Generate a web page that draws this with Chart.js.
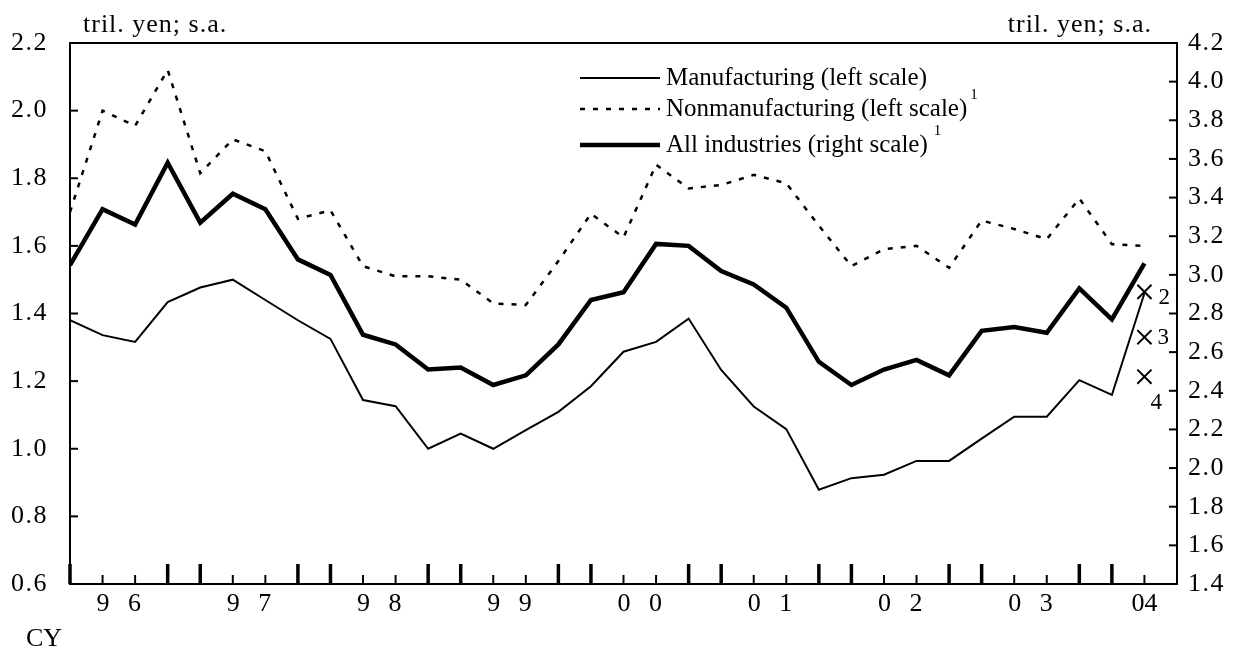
<!DOCTYPE html>
<html>
<head>
<meta charset="utf-8">
<script src="https://cdn.jsdelivr.net/npm/chart.js@4"></script>
<style>
    html, body { margin: 0; padding: 0; background: #fff; }
</style>
</head>
<body>
<canvas id="myChart" width="1240" height="650"></canvas>
<script>
// Quarterly data, 1996 Q1 .. 2004 Q2 (index 0 .. 33)
const manufacturing = [1.38, 1.336, 1.316, 1.434, 1.477, 1.50, 1.44, 1.38, 1.325, 1.144, 1.126, 1.0,
    1.045, 1.0, 1.055, 1.109, 1.185, 1.287, 1.316, 1.385, 1.233, 1.125, 1.058, 0.879,
    0.913, 0.923, 0.964, 0.964, 1.03, 1.095, 1.095, 1.203, 1.159, 1.46];
const nonmanufacturing = [1.70, 2.00, 1.955, 2.12, 1.815, 1.915, 1.88, 1.68, 1.705, 1.54, 1.51, 1.51,
    1.50, 1.43, 1.425, 1.555, 1.695, 1.625, 1.84, 1.77, 1.78, 1.81, 1.785, 1.66,
    1.54, 1.59, 1.60, 1.535, 1.675, 1.65, 1.62, 1.74, 1.605, 1.60];
const allIndustries = [3.05, 3.34, 3.26, 3.58, 3.27, 3.42, 3.34, 3.08, 3.00, 2.69, 2.64, 2.51,
    2.52, 2.43, 2.48, 2.64, 2.87, 2.91, 3.16, 3.15, 3.02, 2.95, 2.83, 2.55,
    2.43, 2.51, 2.56, 2.48, 2.71, 2.73, 2.70, 2.93, 2.77, 3.06];

// Forecast marks (left scale) at the last quarter
const forecastIndex = 33;
const forecastValues = [1.464, 1.33, 1.213];
const forecastLabels = ["2", "3", "4"];

// Axis labels
const yearLabels = ["9 6", "9 7", "9 8", "9 9", "0 0", "0 1", "0 2", "0 3", "04"];
const yearPos = [1.5, 5.5, 9.5, 13.5, 17.5, 21.5, 25.5, 29.5, 33];
const leftTicks = [0.6, 0.8, 1.0, 1.2, 1.4, 1.6, 1.8, 2.0, 2.2];
const rightTicks = [1.4, 1.6, 1.8, 2.0, 2.2, 2.4, 2.6, 2.8, 3.0, 3.2, 3.4, 3.6, 3.8, 4.0, 4.2];

const serif = "'Liberation Serif', 'Times New Roman', serif";

function toPoints(values) {
    return values.map((v, i) => ({ x: i, y: v }));
}

function line(ctx, x1, y1, x2, y2) {
    ctx.beginPath();
    ctx.moveTo(x1, y1);
    ctx.lineTo(x2, y2);
    ctx.stroke();
}

// Wrap a scale's label drawing to widen letters / spaces a little
function spaceLabels(letter, word) {
    return scale => {
        if (scale.spaced) return;
        const draw = scale.drawLabels;
        scale.drawLabels = function (area) {
            this.ctx.save();
            this.ctx.letterSpacing = letter + "px";
            this.ctx.wordSpacing = word + "px";
            draw.call(this, area);
            this.ctx.restore();
        };
        scale.spaced = true;
    };
}

// Frame, inward tick marks, legend and the loose texts
const decor = {
    id: "decor",
    afterDraw(chart) {
        const ctx = chart.ctx;
        const { left, right, top, bottom } = chart.chartArea;
        const xs = chart.scales.x, yL = chart.scales.yL, yR = chart.scales.yR;

        ctx.save();
        ctx.strokeStyle = "#000";
        ctx.lineWidth = 2;
        ctx.strokeRect(left, top, right - left, bottom - top);

        leftTicks.forEach(v => {
            const y = yL.getPixelForValue(v);
            line(ctx, left, y, left + 8, y);
        });
        rightTicks.forEach(v => {
            const y = yR.getPixelForValue(v);
            line(ctx, right - 8, y, right, y);
        });

        // Quarter ticks: long ones on Q4 and Q1
        for (let i = 0; i < manufacturing.length; i++) {
            const px = xs.getPixelForValue(i);
            const tall = i % 4 === 0 || i % 4 === 3;
            ctx.lineWidth = tall ? 3.5 : 2;
            line(ctx, px, bottom, px, bottom - (tall ? 20 : 9));
        }

        // Legend
        const ds = chart.data.datasets;
        const rows = [78, 109, 145];
        ctx.fillStyle = "#000";
        ctx.textBaseline = "middle";
        ctx.textAlign = "left";
        for (let k = 0; k < 3; k++) {
            const d = ds[k];
            ctx.lineWidth = d.borderWidth;
            ctx.setLineDash(d.borderDash || []);
            line(ctx, 580, rows[k], 660, rows[k]);
            ctx.setLineDash([]);
            ctx.font = "25px " + serif;
            ctx.fillText(d.label, 666, rows[k]);
            if (k > 0) {
                const w = ctx.measureText(d.label).width;
                ctx.font = "15px " + serif;
                ctx.fillText("1", 666 + w + (k === 2 ? 6 : 3), rows[k] - 14);
            }
        }

        // Forecast mark numbers
        ctx.font = "23px " + serif;
        const fx = xs.getPixelForValue(forecastIndex);
        const offs = [[14, 6], [13, 1], [6, 26]];
        forecastValues.forEach((v, k) => {
            const fy = yL.getPixelForValue(v);
            ctx.fillText(forecastLabels[k], fx + offs[k][0], fy + offs[k][1]);
        });

        // Units and CY
        ctx.font = "26px " + serif;
        ctx.letterSpacing = "1px";
        ctx.textBaseline = "alphabetic";
        ctx.fillText("tril. yen; s.a.", 83, 32);
        ctx.textAlign = "right";
        ctx.fillText("tril. yen; s.a.", 1152, 32);
        ctx.textAlign = "left";
        ctx.letterSpacing = "0px";
        ctx.font = "26px " + serif;
        ctx.fillText("CY", 26, 646);
        ctx.restore();
    }
};

const ctx = document.getElementById("myChart").getContext("2d");

const myChart = new Chart(ctx, {
    type: "line",
    data: {
        datasets: [
            {
                label: "Manufacturing (left scale)",
                data: toPoints(manufacturing),
                yAxisID: "yL",
                borderColor: "#000",
                borderWidth: 2,
                pointRadius: 0,
                tension: 0
            },
            {
                label: "Nonmanufacturing (left scale)",
                data: toPoints(nonmanufacturing),
                yAxisID: "yL",
                borderColor: "#000",
                borderWidth: 2.5,
                borderDash: [5, 8],
                pointRadius: 0,
                tension: 0
            },
            {
                label: "All industries (right scale)",
                data: toPoints(allIndustries),
                yAxisID: "yR",
                borderColor: "#000",
                borderWidth: 4.5,
                pointRadius: 0,
                tension: 0
            },
            {
                label: "Forecasts",
                data: forecastValues.map(v => ({ x: forecastIndex, y: v })),
                yAxisID: "yL",
                showLine: false,
                borderColor: "#000",
                pointStyle: "crossRot",
                pointRadius: 10,
                pointBorderWidth: 2
            }
        ]
    },
    options: {
        responsive: false,
        animation: false,
        devicePixelRatio: 1,
        layout: { padding: { top: 43, left: 0, right: 0, bottom: 0 } },
        plugins: {
            legend: { display: false },
            tooltip: { enabled: false }
        },
        scales: {
            x: {
                type: "linear",
                min: 0,
                max: 34,
                grid: { display: false, drawTicks: false },
                border: { display: false },
                afterBuildTicks: scale => {
                    scale.ticks = yearPos.map(v => ({ value: v }));
                },
                afterFit: scale => { scale.height = 66; },
                afterUpdate: spaceLabels(0, 12),
                ticks: {
                    autoSkip: false,
                    maxRotation: 0,
                    minRotation: 0,
                    padding: 5,
                    color: "#000",
                    font: { family: serif, size: 26 },
                    callback: (value, index) => yearLabels[index]
                }
            },
            yL: {
                position: "left",
                min: 0.6,
                max: 2.2,
                grid: { display: false, drawTicks: false },
                border: { display: false },
                afterBuildTicks: scale => {
                    scale.ticks = leftTicks.map(v => ({ value: v }));
                },
                afterFit: scale => { scale.width = 70; },
                afterUpdate: spaceLabels(1.5, 0),
                ticks: {
                    padding: 22,
                    color: "#000",
                    font: { family: serif, size: 26 },
                    callback: v => v.toFixed(1)
                }
            },
            yR: {
                position: "right",
                min: 1.4,
                max: 4.2,
                grid: { display: false, drawTicks: false },
                border: { display: false },
                afterBuildTicks: scale => {
                    scale.ticks = rightTicks.map(v => ({ value: v }));
                },
                afterFit: scale => { scale.width = 63; },
                afterUpdate: spaceLabels(1.5, 0),
                ticks: {
                    padding: 11,
                    color: "#000",
                    font: { family: serif, size: 26 },
                    callback: v => v.toFixed(1)
                }
            }
        }
    },
    plugins: [decor]
});
</script>
</body>
</html>
